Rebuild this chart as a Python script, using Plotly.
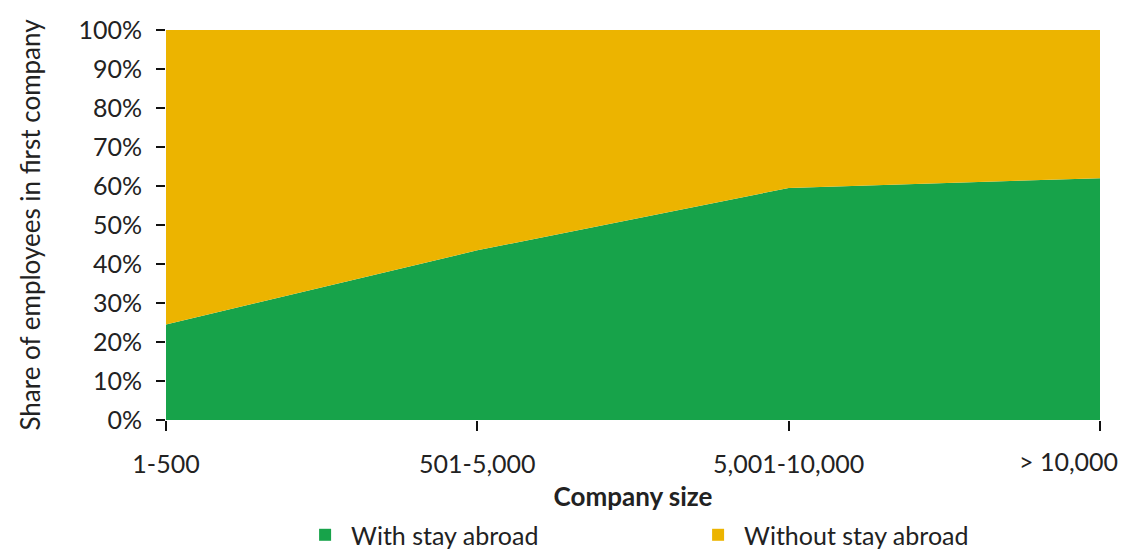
import plotly.graph_objects as go

categories = ["1-500", "501-5,000", "5,001-10,000", "> 10,000"]
with_stay = [24.5, 43.5, 59.5, 62.0]
without_stay = [75.5, 56.5, 40.5, 38.0]
y_ticks = [0, 10, 20, 30, 40, 50, 60, 70, 80, 90, 100]
y_labels = [f"{v}%" for v in y_ticks]

GREEN = "#17A34A"
YELLOW = "#ECB400"
TEXT = "#222222"
FONT = "Lato"

xpos = list(range(len(categories)))

fig = go.Figure()
fig.add_trace(go.Scatter(
    x=xpos, y=with_stay, stackgroup="one", mode="none",
    fillcolor=GREEN, name="With stay abroad", showlegend=False,
    hoverinfo="skip"))
fig.add_trace(go.Scatter(
    x=xpos, y=without_stay, stackgroup="one", mode="none",
    fillcolor=YELLOW, name="Without stay abroad", showlegend=False,
    hoverinfo="skip"))
# legend entries
fig.add_trace(go.Scatter(
    x=[None], y=[None], mode="markers", name="With stay abroad",
    marker=dict(symbol="square", size=18, color=GREEN)))
fig.add_trace(go.Scatter(
    x=[None], y=[None], mode="markers", name="Without stay abroad",
    marker=dict(symbol="square", size=18, color=YELLOW)))

# last category label placed as annotation (shifted left like the reference)
ticktext = categories[:-1] + [""]

fig.update_layout(
    width=1121, height=542,
    margin=dict(l=158, r=29, t=22, b=130, autoexpand=False),
    paper_bgcolor="white", plot_bgcolor="white",
    font=dict(family=FONT, color=TEXT, size=25),
    legend=dict(orientation="h", x=0.1425, xanchor="left", y=-0.236, yanchor="top",
                traceorder="normal", itemwidth=42, tracegroupgap=0,
                entrywidth=336, entrywidthmode="pixels",
                font=dict(size=25, family=FONT, color=TEXT), itemsizing="constant"),
    xaxis=dict(
        range=[0, 3], tickmode="array", tickvals=xpos, ticktext=ticktext,
        showgrid=False, zeroline=False, showline=False, automargin=False,
        ticks="outside", ticklen=10, tickwidth=2, tickcolor="#111",
        ticklabelstandoff=12,
        tickfont=dict(size=25, family=FONT, color=TEXT),
        title=dict(text="<b>Company size</b>", font=dict(size=26, family=FONT, color=TEXT), standoff=10),
    ),
    yaxis=dict(
        range=[0, 100], tickmode="array", tickvals=y_ticks, ticktext=y_labels,
        showgrid=False, zeroline=False, showline=False, automargin=False,
        ticks="outside", ticklen=9, tickwidth=2, tickcolor="#111",
        ticklabelstandoff=9,
        tickfont=dict(size=25, family=FONT, color=TEXT),
        title=dict(text="Share of employees in first company", font=dict(size=26, family=FONT, color=TEXT), standoff=30),
    ),
    annotations=[dict(
        x=xpos[-1], y=0, xref="x", yref="y", text=categories[-1],
        showarrow=False, xanchor="right", yanchor="top",
        xshift=20, yshift=-24, font=dict(size=25, family=FONT, color=TEXT))],
)

fig.write_html("out.html")
